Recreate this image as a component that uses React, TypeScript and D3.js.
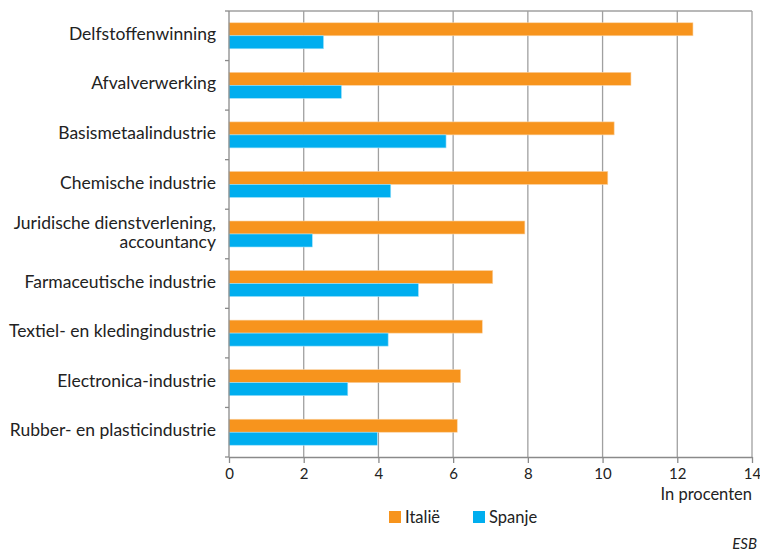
import { useRef, useEffect } from 'react';
import * as d3 from 'd3';

const categories = [
  'Delfstoffenwinning',
  'Afvalverwerking',
  'Basismetaalindustrie',
  'Chemische industrie',
  'Juridische dienstverlening,\naccountancy',
  'Farmaceutische industrie',
  'Textiel- en kledingindustrie',
  'Electronica-industrie',
  'Rubber- en plasticindustrie',
];
const italie = [12.42, 10.76, 10.31, 10.14, 7.92, 7.06, 6.78, 6.2, 6.11];
const spanje = [2.53, 3.01, 5.81, 4.33, 2.23, 5.07, 4.26, 3.18, 3.97];
const xTicks = [0, 2, 4, 6, 8, 10, 12, 14];
const seriesNames = ['Italië', 'Spanje'];
const seriesColors = ['#F7941D', '#00AEEF'];

const FONT = 'Lato, "Open Sans", sans-serif';

export default function App() {
  const svgRef = useRef<SVGSVGElement>(null);

  useEffect(() => {
    const svg = d3.select(svgRef.current);
    svg.selectAll('*').remove();

    const W = 760, H = 552;
    const left = 229, right = 752, top = 11, bottom = 457;

    const x = d3.scaleLinear().domain([0, 14]).range([left, right]);
    const y = d3.scaleBand<number>()
      .domain(d3.range(categories.length))
      .range([top, bottom]);
    const barH = 13;

    // grid
    svg.append('g')
      .selectAll('line')
      .data(xTicks.slice(1))
      .join('line')
      .attr('x1', d => x(d)).attr('x2', d => x(d))
      .attr('y1', top).attr('y2', bottom)
      .attr('stroke', '#a0a0a0')
      .attr('stroke-width', 1.3);

    // top border
    svg.append('line')
      .attr('x1', left).attr('x2', right)
      .attr('y1', top).attr('y2', top)
      .attr('stroke', '#a0a0a0').attr('stroke-width', 1.3);

    // bars
    const groups = svg.append('g')
      .selectAll('g')
      .data(categories.map((c, i) => ({ c, i })))
      .join('g');

    groups.append('rect')
      .attr('x', x(0))
      .attr('y', d => y(d.i)! + y.bandwidth() / 2 - barH)
      .attr('width', d => x(italie[d.i]) - x(0))
      .attr('height', barH)
      .attr('fill', seriesColors[0])
      .attr('stroke', '#fbd3a4').attr('stroke-width', 0.6);

    groups.append('rect')
      .attr('x', x(0))
      .attr('y', d => y(d.i)! + y.bandwidth() / 2)
      .attr('width', d => x(spanje[d.i]) - x(0))
      .attr('height', barH)
      .attr('fill', seriesColors[1])
      .attr('stroke', '#9fe0f8').attr('stroke-width', 0.6);

    // y axis
    const yAxis = svg.append('g')
      .attr('transform', `translate(${left},0)`);
    yAxis.append('line')
      .attr('x1', 0).attr('x2', 0).attr('y1', top).attr('y2', bottom)
      .attr('stroke', '#8a8a8a').attr('stroke-width', 1.3);
    yAxis.selectAll('.tk')
      .data(d3.range(categories.length + 1))
      .join('line')
      .attr('x1', -4).attr('x2', 0)
      .attr('y1', d => top + d * y.step())
      .attr('y2', d => top + d * y.step())
      .attr('stroke', '#8a8a8a').attr('stroke-width', 1.3);

    const labels = svg.append('g')
      .attr('font-family', FONT)
      .attr('font-size', 17.5)
      .attr('fill', '#222')
      .attr('text-anchor', 'end');
    categories.forEach((c, i) => {
      const lines = c.split('\n');
      const cy = y(i)! + y.bandwidth() / 2 - 2;
      const lh = 19;
      lines.forEach((l, j) => {
        labels.append('text')
          .attr('x', 216)
          .attr('y', cy + (j - (lines.length - 1) / 2) * lh)
          .attr('dy', '0.35em')
          .text(l);
      });
    });

    // x axis
    const xAxis = svg.append('g')
      .attr('transform', `translate(0,${bottom})`)
      .call(d3.axisBottom(x).tickValues(xTicks).tickSize(6).tickSizeOuter(0).tickPadding(5));
    xAxis.select('.domain').attr('stroke', '#8a8a8a').attr('stroke-width', 1.3);
    xAxis.selectAll('.tick line').attr('stroke', '#8a8a8a').attr('stroke-width', 1.3);
    xAxis.selectAll('text')
      .attr('fill', '#222')
      .style('font-family', FONT)
      .style('font-size', '15px');

    svg.append('text')
      .attr('x', right).attr('y', 500)
      .attr('text-anchor', 'end')
      .attr('font-family', FONT).attr('font-size', 16.5).attr('fill', '#222')
      .text('In procenten');

    // legend
    const legendX = [389, 473];
    seriesNames.forEach((n, i) => {
      svg.append('rect')
        .attr('x', legendX[i]).attr('y', 511)
        .attr('width', 12).attr('height', 12)
        .attr('fill', seriesColors[i]);
      svg.append('text')
        .attr('x', legendX[i] + 16).attr('y', 523)
        .attr('font-family', FONT).attr('font-size', 16.5).attr('fill', '#222')
        .text(n);
    });

    svg.append('text')
      .attr('x', 757).attr('y', 549)
      .attr('text-anchor', 'end')
      .attr('font-family', FONT).attr('font-size', 15).attr('font-style', 'italic')
      .attr('fill', '#222')
      .text('ESB');

    svg.attr('viewBox', `0 0 ${W} ${H}`);
  }, []);

  return (
    <svg
      ref={svgRef}
      width={760}
      height={552}
      style={{ position: 'absolute', left: 0, top: 0, background: '#fff' }}
    />
  );
}
